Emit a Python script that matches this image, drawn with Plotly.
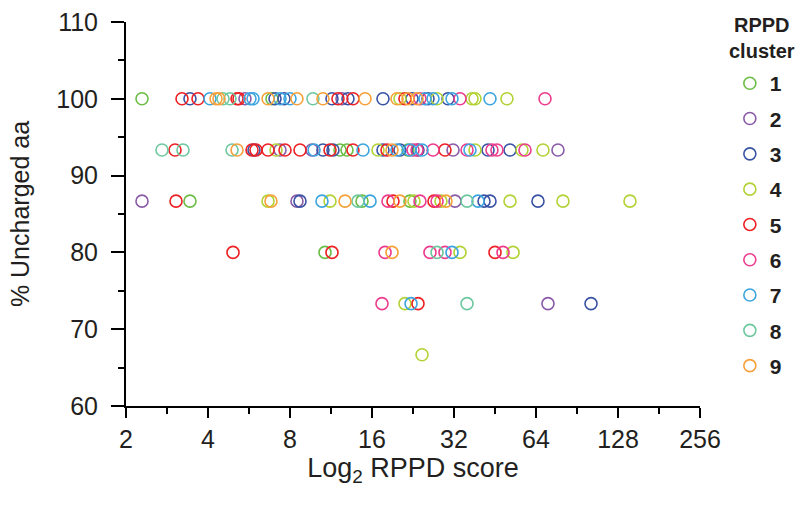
import plotly.graph_objects as go

clusters = ["1", "2", "3", "4", "5", "6", "7", "8", "9"]
colors = ["#6abd45", "#8a5ba8", "#3953a4", "#b2d235", "#ed2024",
          "#ec3c8e", "#3ca5df", "#6dc8a0", "#f6a13a"]

# log2 RPPD score and % uncharged aa per cluster
c1_log2 = [1.195, 2.780, 3.610, 3.695, 4.439, 1.780, 3.878, 4.463, 3.427]
c1_pct = [100, 100, 93.33, 93.33, 93.33, 86.67, 86.67, 86.67, 80]

c2_log2 = [2.451, 3.634, 2.878, 3.268, 4.988, 6.268, 1.195, 3.085, 5.012, 6.146]
c2_pct = [100, 100, 93.33, 93.33, 93.33, 93.33, 86.67, 86.67, 86.67, 73.33]

c3_log2 = [1.780, 2.817, 2.927, 3.512, 3.707, 4.134, 4.488, 4.683, 4.927,
           2.561, 3.402, 3.524, 4.134, 4.341, 4.561, 5.415, 5.683,
           3.122, 5.366, 5.439, 6.024, 6.671]
c3_pct = [100, 100, 100, 100, 100, 100, 100, 100, 100,
          93.33, 93.33, 93.33, 93.33, 93.33, 93.33, 93.33, 93.33,
          86.67, 86.67, 86.67, 86.67, 73.33]

c4_log2 = [4.341, 4.793, 5.220, 5.256, 5.646,
           2.829, 4.073, 5.256, 5.829, 6.085,
           2.732, 3.488, 4.512, 4.841, 5.683, 6.329, 7.146,
           5.073, 5.720, 4.402, 4.610]
c4_pct = [100, 100, 100, 100, 100,
          93.33, 93.33, 93.33, 93.33, 93.33,
          86.67, 86.67, 86.67, 86.67, 86.67, 86.67, 86.67,
          80, 80, 73.33, 66.67]

c5_log2 = [1.683, 1.878, 2.354, 2.378, 3.585, 3.768, 4.402,
           1.598, 2.537, 2.585, 2.732, 2.939, 3.122, 3.488, 3.768, 4.183, 4.890,
           1.610, 4.256, 4.756, 2.305, 3.512, 5.500, 4.561]
c5_pct = [100, 100, 100, 100, 100, 100, 100,
          93.33, 93.33, 93.33, 93.33, 93.33, 93.33, 93.33, 93.33, 93.33, 93.33,
          86.67, 86.67, 86.67, 80, 80, 80, 73.33]

c6_log2 = [4.585, 5.073, 6.110,
           4.500, 4.549, 4.744, 5.159, 5.463, 5.524, 5.866,
           4.195, 4.585, 4.793, 4.159, 4.707, 4.890, 5.598, 4.122]
c6_pct = [100, 100, 100,
          93.33, 93.33, 93.33, 93.33, 93.33, 93.33, 93.33,
          86.67, 86.67, 86.67, 80, 80, 80, 80, 73.33]

c7_log2 = [2.024, 2.512, 2.549, 2.878, 3.000, 4.646, 4.744, 4.976, 5.439,
           3.293, 3.890, 4.305, 4.463, 4.610, 5.195,
           3.390, 3.976, 5.293, 4.976, 4.476]
c7_pct = [100, 100, 100, 100, 100, 100, 100, 100, 100,
          93.33, 93.33, 93.33, 93.33, 93.33, 93.33,
          86.67, 86.67, 86.67, 80, 73.33]

c8_log2 = [2.183, 2.268, 3.280, 1.439, 1.695, 2.293, 3.829, 5.159, 4.793, 5.159]
c8_pct = [100, 100, 100, 93.33, 93.33, 93.33, 86.67, 86.67, 80, 73.33]

c9_log2 = [2.098, 2.134, 2.732, 3.085, 3.402, 3.915, 4.305, 4.439, 4.549,
           2.354, 4.244, 2.768, 3.671, 4.341, 4.902, 4.244]
c9_pct = [100, 100, 100, 100, 100, 100, 100, 100, 100,
          93.33, 93.33, 86.67, 86.67, 86.67, 86.67, 80]

xs = [c1_log2, c2_log2, c3_log2, c4_log2, c5_log2, c6_log2, c7_log2, c8_log2, c9_log2]
ys = [c1_pct, c2_pct, c3_pct, c4_pct, c5_pct, c6_pct, c7_pct, c8_pct, c9_pct]

x_tickvals = [1, 2, 3, 4, 5, 6, 7, 8]
x_ticktext = ["2", "4", "8", "16", "32", "64", "128", "256"]
y_tickvals = [60, 70, 80, 90, 100, 110]

fig = go.Figure()
for name, col, x, y in zip(clusters, colors, xs, ys):
    fig.add_trace(go.Scatter(
        x=x, y=y, mode="markers", name=name, legendgroup=name,
        marker=dict(symbol="circle-open", size=12, color=col,
                    line=dict(width=1.6, color=col)),
        cliponaxis=False,
    ))

font_family = "Liberation Sans, Arial, sans-serif"
txt = "#231f20"
fig.update_layout(
    width=798, height=506,
    margin=dict(l=126, r=98, t=22, b=100, autoexpand=False),
    plot_bgcolor="white", paper_bgcolor="white",
    font=dict(family=font_family, size=24, color=txt),
    showlegend=True,
    legend=dict(
        x=1.052, y=0.893, xanchor="left", yanchor="top",
        font=dict(size=21, color=txt, weight="bold"),
        tracegroupgap=5,
        itemsizing="trace",
        maxheight=1,
        bgcolor="rgba(0,0,0,0)",
    ),
    annotations=[dict(
        text="<b>RPPD<br>cluster</b>", xref="paper", yref="paper",
        x=1.108, y=1.026, xanchor="center", yanchor="top",
        showarrow=False, align="center",
        font=dict(size=20, color=txt, family=font_family),
    )],
    xaxis=dict(
        range=[1, 8], tickvals=x_tickvals, ticktext=x_ticktext,
        showline=True, linecolor="black", linewidth=2,
        ticks="outside", ticklen=10, tickwidth=2, tickcolor="black",
        minor=dict(ticks="outside", ticklen=6, tickwidth=2, tickcolor="black",
                   tick0=1.5, dtick=1),
        showgrid=False, zeroline=False,
        title=dict(text="Log<sub>2</sub> RPPD score", font=dict(size=27), standoff=5),
        tickfont=dict(size=25),
    ),
    yaxis=dict(
        range=[60, 110], tickvals=y_tickvals,
        showline=True, linecolor="black", linewidth=2,
        ticks="outside", ticklen=13, tickwidth=2, tickcolor="black",
        minor=dict(ticks="outside", ticklen=6, tickwidth=2, tickcolor="black",
                   tick0=65, dtick=10),
        showgrid=False, zeroline=False,
        ticklabelstandoff=8,
        title=dict(text="% Uncharged aa", font=dict(size=25), standoff=20),
        tickfont=dict(size=25),
    ),
)

fig.write_html("out.html")
